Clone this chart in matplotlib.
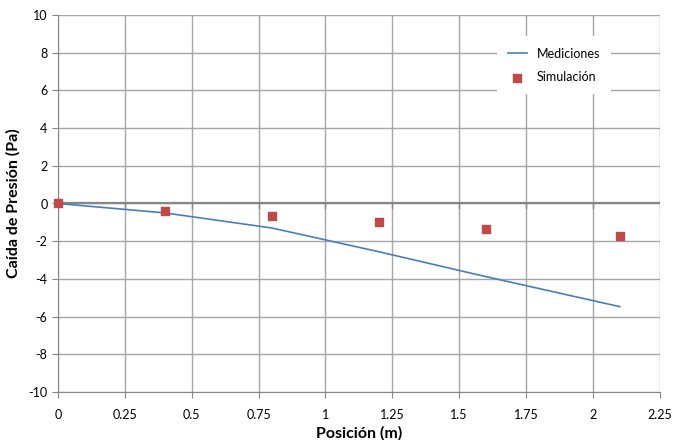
import matplotlib.pyplot as plt
import numpy as np

plt.rcParams['font.family'] = ['Lato', 'DejaVu Sans']
plt.rcParams['axes.unicode_minus'] = False

# datos
pos_med = [0, 0.4, 0.8, 1.2, 1.6, 2.1]
dp_med = [0, -0.5, -1.3, -2.56, -3.88, -5.47]
pos_sim = [0, 0.4, 0.8, 1.2, 1.6, 2.1]
dp_sim = [0, -0.38, -0.66, -1.0, -1.35, -1.71]

xticks = [0, 0.25, 0.5, 0.75, 1, 1.25, 1.5, 1.75, 2, 2.25]
xlabels = ['0', '0.25', '0.5', '0.75', '1', '1.25', '1.5', '1.75', '2', '2.25']
yticks = list(range(-10, 11, 2))

fig = plt.figure(figsize=(6.74, 4.4), dpi=100)
ax = fig.add_axes([0.086, 0.109, 0.893, 0.857])

ax.plot(pos_med, dp_med, color='#4a7ebb', lw=1.2, label='Mediciones', zorder=3)
ax.scatter(pos_sim, dp_sim, marker='s', s=28, color='#be4b48', label='Simulación',
           zorder=4, clip_on=False)

ax.set_xlim(0, 2.25)
ax.set_ylim(-10, 10)
ax.set_xticks(xticks)
ax.set_xticklabels(xlabels)
ax.set_yticks(yticks)
ax.grid(True, color='#a6a6a6', lw=1.0)
ax.set_axisbelow(True)

# eje horizontal en y = 0
ax.axhline(0, color='#868686', lw=1.6, zorder=2)
for xt in xticks:
    ax.plot([xt, xt], [0, -0.25], color='#868686', lw=1.0, zorder=2)

for s in ['top', 'right']:
    ax.spines[s].set_visible(False)
ax.spines['left'].set_color('#868686')
ax.spines['bottom'].set_color('#868686')
ax.tick_params(axis='both', colors='#868686', labelcolor='black', labelsize=9, length=4)
ax.tick_params(axis='x', pad=8)

ax.set_xlabel('Posición (m)', fontsize=11.5, fontweight='bold', labelpad=4)
ax.set_ylabel('Caída de Presión (Pa)', fontsize=11.5, fontweight='bold', labelpad=6)

leg = ax.legend(loc='upper right', bbox_to_anchor=(0.93, 0.96), frameon=True, fontsize=9,
                handlelength=1.5, borderpad=0.9, labelspacing=0.9)
leg.get_frame().set_edgecolor('none')
leg.get_frame().set_facecolor('white')
leg.get_frame().set_alpha(1)

fig.savefig('out.png', dpi=100)
